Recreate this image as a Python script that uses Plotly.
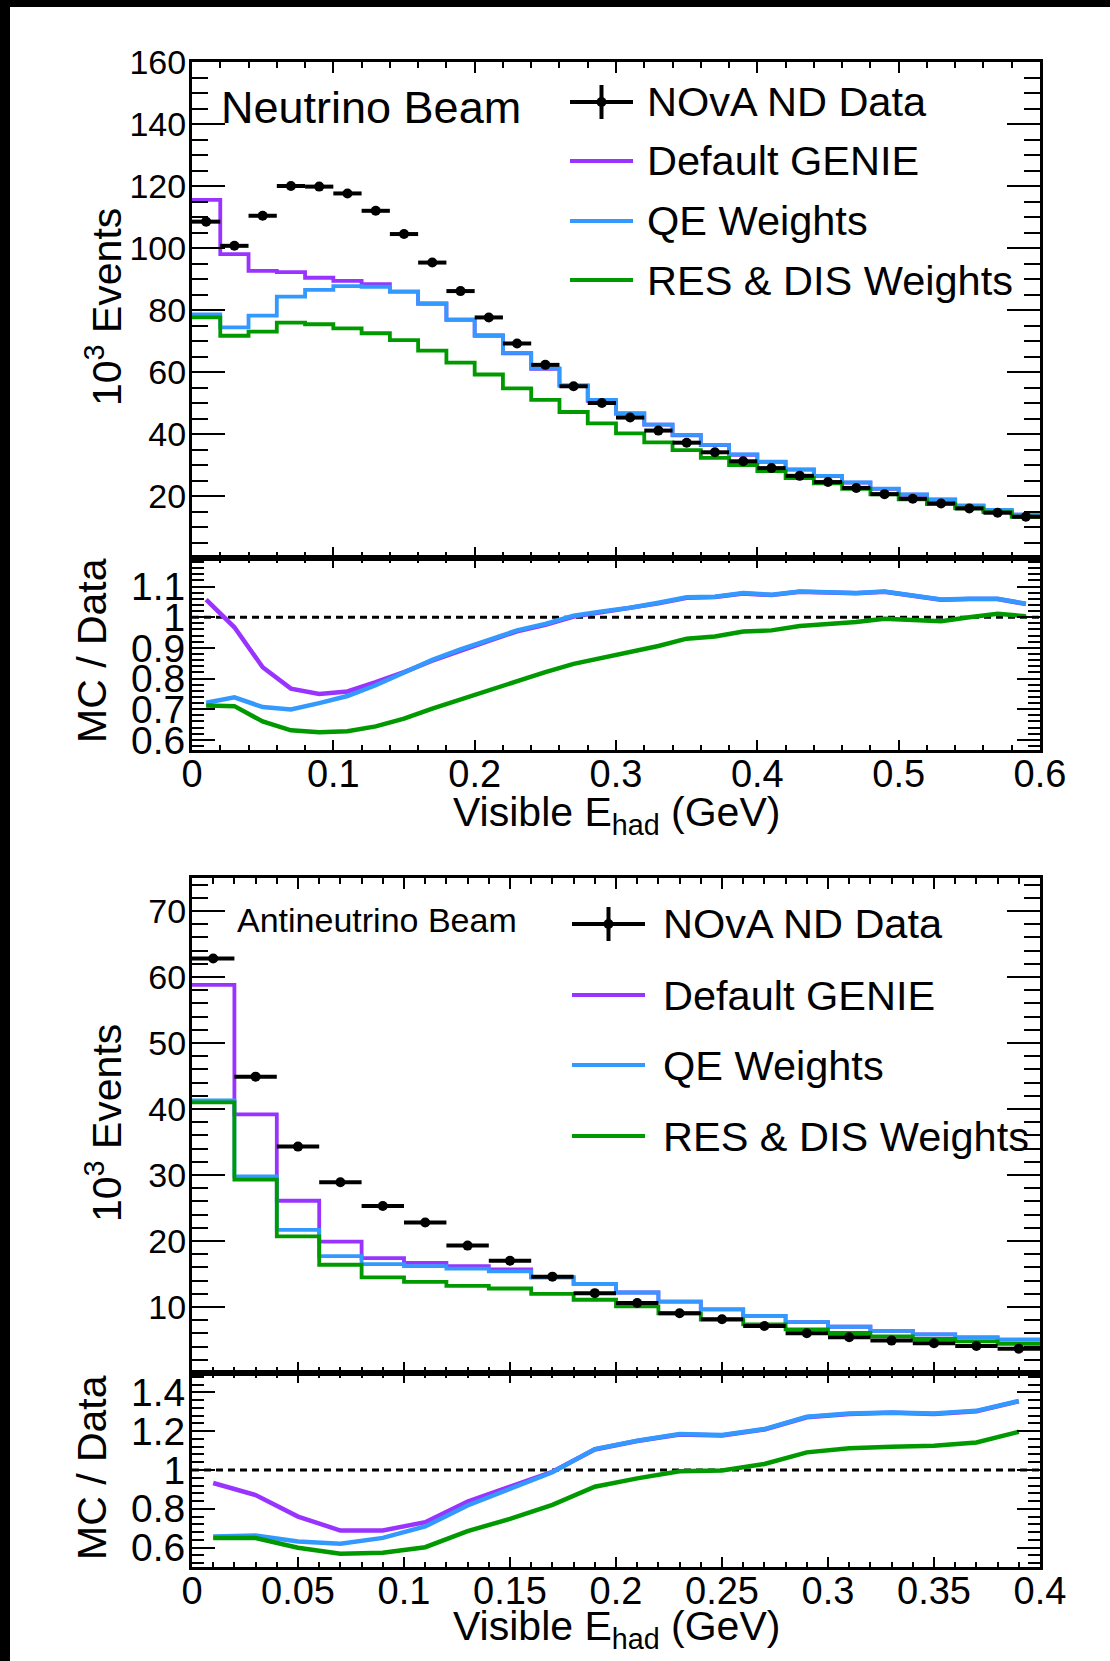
import plotly.graph_objects as go

W, H = 1110, 1661

# ---------------- Neutrino beam ----------------
nu_edges = [0.00, 0.02, 0.04, 0.06, 0.08, 0.10, 0.12, 0.14, 0.16, 0.18, 0.20,
            0.22, 0.24, 0.26, 0.28, 0.30, 0.32, 0.34, 0.36, 0.38, 0.40,
            0.42, 0.44, 0.46, 0.48, 0.50, 0.52, 0.54, 0.56, 0.58, 0.60]
nu_centers = [0.01, 0.03, 0.05, 0.07, 0.09, 0.11, 0.13, 0.15, 0.17, 0.19,
              0.21, 0.23, 0.25, 0.27, 0.29, 0.31, 0.33, 0.35, 0.37, 0.39,
              0.41, 0.43, 0.45, 0.47, 0.49, 0.51, 0.53, 0.55, 0.57, 0.59]
nu_data = [108.5, 100.7, 110.4, 120.0, 119.8, 117.6, 112.0, 104.5, 95.3, 86.1,
           77.6, 69.2, 62.3, 55.4, 50.0, 45.3, 41.1, 37.2, 34.1, 31.2,
           29.0, 26.5, 24.5, 22.6, 20.6, 19.1, 17.6, 16.0, 14.6, 13.3]
nu_genie = [115.5, 98.0, 92.6, 92.2, 90.4, 89.4, 88.3, 85.9, 82.0, 76.8,
            71.7, 66.0, 61.0, 55.6, 50.7, 46.6, 43.0, 39.6, 36.4, 33.3,
            31.0, 28.5, 26.4, 24.3, 22.3, 20.4, 18.8, 16.9, 15.4, 14.0]
nu_qe = [78.6, 74.4, 78.2, 84.3, 86.5, 87.7, 87.5, 85.9, 82.2, 77.0,
         71.9, 66.2, 61.2, 55.7, 51.0, 46.7, 43.0, 39.7, 36.5, 33.4,
         31.1, 28.6, 26.5, 24.4, 22.4, 20.5, 18.9, 16.9, 15.5, 14.0]
nu_resdis = [77.6, 71.7, 73.0, 75.9, 75.4, 74.1, 72.5, 70.3, 66.9, 63.0,
             59.2, 54.7, 51.0, 47.1, 43.4, 40.2, 37.3, 34.8, 32.3, 30.0,
             28.0, 25.8, 24.1, 22.3, 20.5, 18.9, 17.4, 16.0, 14.8, 13.3]
nu_ratio_genie = [1.057, 0.967, 0.837, 0.767, 0.750, 0.758, 0.788, 0.821, 0.858, 0.892,
                  0.923, 0.954, 0.975, 1.002, 1.017, 1.029, 1.045, 1.063, 1.066, 1.077,
                  1.072, 1.083, 1.080, 1.078, 1.083, 1.070, 1.057, 1.059, 1.059, 1.043]
nu_ratio_qe = [0.721, 0.739, 0.707, 0.699, 0.720, 0.743, 0.778, 0.818, 0.861, 0.895,
               0.926, 0.957, 0.978, 1.005, 1.019, 1.031, 1.047, 1.065, 1.067, 1.079,
               1.073, 1.084, 1.081, 1.079, 1.084, 1.071, 1.058, 1.060, 1.060, 1.044]
nu_ratio_resdis = [0.712, 0.710, 0.660, 0.631, 0.625, 0.628, 0.644, 0.669, 0.702, 0.732,
                   0.764, 0.794, 0.821, 0.848, 0.868, 0.886, 0.906, 0.930, 0.937, 0.953,
                   0.957, 0.971, 0.976, 0.984, 0.995, 0.992, 0.987, 1.000, 1.011, 1.003]

# ---------------- Antineutrino beam ----------------
anu_edges = [0.00, 0.02, 0.04, 0.06, 0.08, 0.10, 0.12, 0.14, 0.16, 0.18, 0.20,
             0.22, 0.24, 0.26, 0.28, 0.30, 0.32, 0.34, 0.36, 0.38, 0.40]
anu_centers = [0.01, 0.03, 0.05, 0.07, 0.09, 0.11, 0.13, 0.15, 0.17, 0.19,
               0.21, 0.23, 0.25, 0.27, 0.29, 0.31, 0.33, 0.35, 0.37, 0.39]
anu_data = [62.8, 44.9, 34.3, 28.9, 25.3, 22.8, 19.3, 17.0, 14.6, 12.1,
            10.6, 9.06, 8.15, 7.13, 6.02, 5.42, 4.91, 4.50, 4.10, 3.69]
anu_genie = [58.8, 39.2, 26.1, 19.9, 17.4, 16.7, 16.2, 15.7, 14.5, 13.5,
             12.2, 10.8, 9.63, 8.66, 7.70, 7.01, 6.37, 5.84, 5.40, 5.05]
anu_qe = [41.3, 29.8, 21.7, 17.7, 16.5, 16.2, 15.8, 15.4, 14.5, 13.5,
          12.2, 10.8, 9.63, 8.66, 7.70, 7.01, 6.37, 5.84, 5.40, 5.05]
anu_resdis = [41.0, 29.3, 20.7, 16.4, 14.5, 13.8, 13.2, 12.8, 12.0, 11.1,
              10.1, 9.04, 8.10, 7.36, 6.62, 6.06, 5.55, 5.15, 4.80, 4.42]
anu_ratio_genie = [0.933, 0.871, 0.760, 0.688, 0.688, 0.731, 0.837, 0.911, 0.991, 1.106,
                   1.149, 1.183, 1.178, 1.209, 1.272, 1.289, 1.295, 1.289, 1.303, 1.354]
anu_ratio_qe = [0.657, 0.662, 0.631, 0.620, 0.650, 0.709, 0.817, 0.902, 0.988, 1.108,
                1.151, 1.185, 1.180, 1.211, 1.274, 1.291, 1.297, 1.291, 1.305, 1.356]
anu_ratio_resdis = [0.650, 0.649, 0.599, 0.568, 0.573, 0.602, 0.685, 0.748, 0.820, 0.914,
                    0.957, 0.993, 0.997, 1.031, 1.091, 1.112, 1.120, 1.125, 1.142, 1.197]

series_names = ["NOvA ND Data", "Default GENIE", "QE Weights", "RES & DIS Weights"]
C_GENIE, C_QE, C_RES = "#9933ff", "#3399ff", "#009900"
FONT = "Liberation Sans, Arial, Helvetica, sans-serif"

fig = go.Figure()


def add_panel(edges, centers, data, mc_list, ratio_list, xa, ya, xr, yr):
    colors = [C_GENIE, C_QE, C_RES]
    for vals, col in zip(mc_list, colors):
        fig.add_trace(go.Scatter(x=edges, y=list(vals) + [vals[-1]], mode="lines",
                                 line=dict(color=col, width=3.8, shape="hv"),
                                 xaxis=xa, yaxis=ya, hoverinfo="skip"))
    fig.add_trace(go.Scatter(x=centers, y=data, mode="markers",
                             marker=dict(color="black", size=10),
                             error_x=dict(type="constant", value=0.01, thickness=4,
                                          width=0, color="black"),
                             xaxis=xa, yaxis=ya))
    fig.add_trace(go.Scatter(x=[edges[0], edges[-1]], y=[1, 1], mode="lines",
                             line=dict(color="black", width=3, dash="7px,5px"),
                             xaxis=xr, yaxis=yr, hoverinfo="skip"))
    for vals, col in zip(ratio_list, colors):
        fig.add_trace(go.Scatter(x=centers, y=vals, mode="lines",
                                 line=dict(color=col, width=4.5),
                                 xaxis=xr, yaxis=yr))


add_panel(nu_edges, nu_centers, nu_data, [nu_genie, nu_qe, nu_resdis],
          [nu_ratio_genie, nu_ratio_qe, nu_ratio_resdis], "x", "y", "x2", "y2")
add_panel(anu_edges, anu_centers, anu_data, [anu_genie, anu_qe, anu_resdis],
          [anu_ratio_genie, anu_ratio_qe, anu_ratio_resdis], "x3", "y3", "x4", "y4")


def px(x):
    return x / W


def py(y):
    return 1 - y / H


XD = [px(192), px(1040)]
common = dict(showline=True, linecolor="black", linewidth=3, mirror="ticks",
              ticks="inside", tickcolor="black", tickwidth=2, showgrid=False,
              zeroline=False, domain=XD, automargin=False)


def minor(t0, dt, ln):
    return dict(tickmode="linear", tick0=t0, dtick=dt, ticklen=ln, ticks="inside",
                tickcolor="black", tickwidth=2, showgrid=False)


xcommon = {k: v for k, v in common.items()}
fig.update_layout(
    xaxis=dict(xcommon, anchor="y", range=[0, 0.6], tickmode="linear", tick0=0, dtick=0.1,
               ticklen=11, showticklabels=False, minor=minor(0, 0.02, 6)),
    yaxis=dict(common, anchor="x", domain=[py(558), py(62)], range=[0, 160],
               tickmode="array", tickvals=[0, 20, 40, 60, 80, 100, 120, 140, 160],
               ticktext=["", "20", "40", "60", "80", "100", "120", "140", "160"],
               ticklen=33, minor=minor(0, 5, 16), ticklabelstandoff=-4,
               tickfont=dict(size=34, color="black")),
    xaxis2=dict(xcommon, anchor="y2", range=[0, 0.6], tickmode="array",
                tickvals=[0, 0.1, 0.2, 0.3, 0.4, 0.5, 0.6],
                ticktext=["0", "0.1", "0.2", "0.3", "0.4", "0.5", "0.6"],
                ticklen=10, minor=minor(0, 0.02, 5), ticklabelstandoff=-12,
                tickfont=dict(size=38, color="black")),
    yaxis2=dict(common, anchor="x2", domain=[py(750), py(558)], range=[0.567, 1.193],
                tickmode="array", tickvals=[0.6, 0.7, 0.8, 0.9, 1.0, 1.1],
                ticktext=["0.6", "0.7", "0.8", "0.9", "1", "1.1"],
                ticklen=23, minor=minor(0.6, 0.02, 12), ticklabelstandoff=-4,
                tickfont=dict(size=39, color="black")),
    xaxis3=dict(xcommon, anchor="y3", range=[0, 0.4], tickmode="linear", tick0=0, dtick=0.05,
                ticklen=11, showticklabels=False, minor=minor(0, 0.01, 6)),
    yaxis3=dict(common, anchor="x3", domain=[py(1373), py(878)], range=[0, 75],
                tickmode="array", tickvals=[10, 20, 30, 40, 50, 60, 70],
                ticktext=["10", "20", "30", "40", "50", "60", "70"],
                ticklen=33, minor=minor(0, 2, 16), ticklabelstandoff=-4,
                tickfont=dict(size=34, color="black")),
    xaxis4=dict(xcommon, anchor="y4", range=[0, 0.4], tickmode="array",
                tickvals=[0, 0.05, 0.1, 0.15, 0.2, 0.25, 0.3, 0.35, 0.4],
                ticktext=["0", "0.05", "0.1", "0.15", "0.2", "0.25", "0.3", "0.35", "0.4"],
                ticklen=10, minor=minor(0, 0.01, 5), ticklabelstandoff=-12,
                tickfont=dict(size=38, color="black")),
    yaxis4=dict(common, anchor="x4", domain=[py(1567), py(1373)], range=[0.5, 1.5],
                tickmode="array", tickvals=[0.6, 0.8, 1.0, 1.2, 1.4],
                ticktext=["0.6", "0.8", "1", "1.2", "1.4"],
                ticklen=23, minor=minor(0.6, 0.04, 12), ticklabelstandoff=-4,
                tickfont=dict(size=39, color="black")),
)

annotations = []
shapes = []


def text(t, x, y, size, xanchor="left", angle=0):
    annotations.append(dict(text=t, x=px(x), y=py(y), xref="paper", yref="paper",
                            xanchor=xanchor, yanchor="middle", showarrow=False,
                            textangle=angle, font=dict(size=size, color="black", family=FONT)))


# panel labels
text("Neutrino Beam", 219, 108, 45)
text("Antineutrino Beam", 235, 920, 34)

# axis titles
for yc in (307, 1123):
    text("10<sup>3</sup> Events", 104, yc, 41, xanchor="center", angle=-90)
for yc in (651, 1468):
    text("MC / Data", 92, yc, 41, xanchor="center", angle=-90)
for yc in (815, 1629):
    text("Visible E<sub>had</sub> (GeV)", 616, yc, 41, xanchor="center")


def legend(rows, x0, x1, xt):
    colors = [None, C_GENIE, C_QE, C_RES]
    for name, yc, col in zip(series_names, rows, colors):
        text(name, xt, yc, 41.5)
        if col is None:
            xm = (x0 + x1) / 2
            shapes.append(dict(type="line", xref="paper", yref="paper", x0=px(x0), x1=px(x1),
                               y0=py(yc), y1=py(yc), line=dict(color="black", width=4)))
            shapes.append(dict(type="line", xref="paper", yref="paper", x0=px(xm), x1=px(xm),
                               y0=py(yc - 17), y1=py(yc + 17), line=dict(color="black", width=4)))
            shapes.append(dict(type="circle", xref="paper", yref="paper", x0=px(xm - 5),
                               x1=px(xm + 5), y0=py(yc + 5), y1=py(yc - 5),
                               fillcolor="black", line=dict(color="black", width=0)))
        else:
            shapes.append(dict(type="line", xref="paper", yref="paper", x0=px(x0), x1=px(x1),
                               y0=py(yc), y1=py(yc), line=dict(color=col, width=4)))


legend([102, 161, 221, 280], 570, 633, 645)
legend([924, 995, 1065, 1136], 572, 645, 661)

# black border of the original picture
shapes.append(dict(type="rect", xref="paper", yref="paper", x0=0, x1=1, y0=py(7), y1=1,
                   fillcolor="black", line=dict(width=0)))
shapes.append(dict(type="rect", xref="paper", yref="paper", x0=0, x1=px(10), y0=0, y1=1,
                   fillcolor="black", line=dict(width=0)))

fig.update_layout(autosize=True,
                  margin=dict(l=0, r=0, t=0, b=0, pad=0, autoexpand=False),
                  paper_bgcolor="white", plot_bgcolor="white", showlegend=False,
                  font=dict(family=FONT, color="black"),
                  annotations=annotations, shapes=shapes)

# The plot div is pinned to the page corner at exactly the window size.
fig.write_html("out.html",
               config={"displayModeBar": False},
               default_width="%dpx; position:absolute; left:0px; top:0px" % W,
               default_height="%dpx" % H)
